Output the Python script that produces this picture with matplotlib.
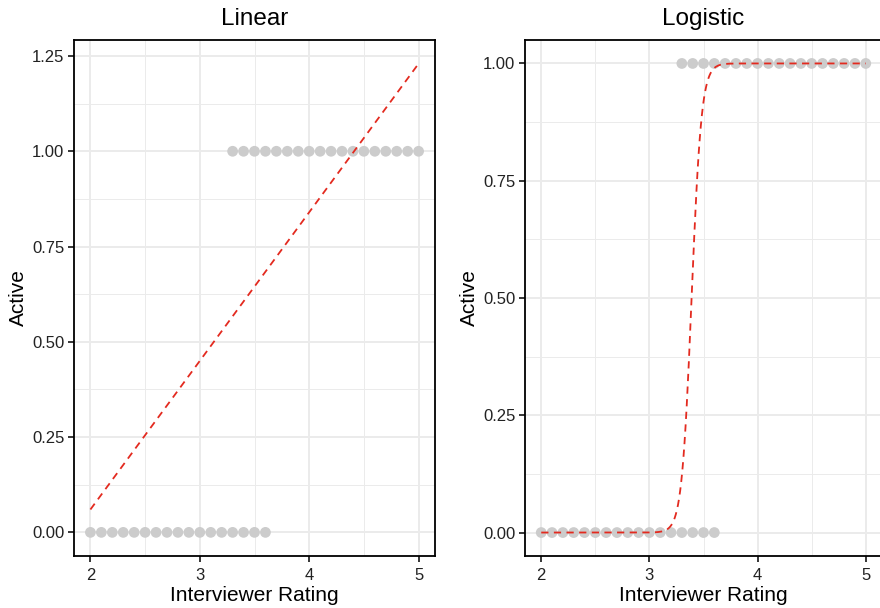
import numpy as np
import matplotlib
matplotlib.use("Agg")
import matplotlib.pyplot as plt

plt.rcParams['font.family'] = ['Liberation Sans', 'DejaVu Sans']

# observed ratings, split by outcome
rating_inactive = [2.0, 2.1, 2.2, 2.3, 2.4, 2.5, 2.6, 2.7, 2.8, 2.9, 3.0,
                   3.1, 3.2, 3.3, 3.4, 3.5, 3.6]
rating_active = [3.3, 3.4, 3.5, 3.6, 3.7, 3.8, 3.9, 4.0, 4.1, 4.2, 4.3,
                 4.4, 4.5, 4.6, 4.7, 4.8, 4.9, 5.0]

# fitted models
lin_intercept = -0.72
lin_slope = 0.39
logit_mid = 3.39
logit_k = 22.0

pt_col = '#CCCCCC'
line_col = '#E32A1F'
grid_col = '#EBEBEB'

fig = plt.figure(figsize=(8.8, 6.08), dpi=100)
ax1 = fig.add_axes([74/880, 52/608, 361/880, 516/608])
ax2 = fig.add_axes([525/880, 52/608, 357/880, 516/608])

xs = np.linspace(2, 5, 300)
x_all = rating_inactive + rating_active
y_all = [0] * len(rating_inactive) + [1] * len(rating_active)

def style(ax, title, yticks, ylim):
    ax.set_xlim(1.85, 5.15)
    ax.set_ylim(*ylim)
    ax.set_xticks([2, 3, 4, 5])
    ax.set_xticks([2.5, 3.5, 4.5], minor=True)
    ax.set_yticks(yticks)
    step = yticks[1] - yticks[0]
    ax.set_yticks([t + step / 2 for t in yticks[:-1]], minor=True)
    ax.set_yticklabels(['%.2f' % t for t in yticks])
    ax.grid(True, which='major', color=grid_col, lw=1.4, zorder=0)
    ax.grid(True, which='minor', color=grid_col, lw=0.7, zorder=0)
    ax.set_axisbelow(True)
    ax.tick_params(which='major', direction='out', length=4, width=1.1,
                   color='black', labelsize=12, labelcolor='#222222', pad=3)
    ax.tick_params(axis='x', pad=5)
    ax.tick_params(which='minor', length=0)
    for s in ax.spines.values():
        s.set_linewidth(1.3)
        s.set_color('black')
    ax.set_title(title, fontsize=17.5, pad=11)
    ax.set_xlabel('Interviewer Rating', fontsize=15, labelpad=2)
    ax.set_ylabel('Active', fontsize=15, labelpad=3)

ax1.scatter(x_all, y_all, s=60, color=pt_col, edgecolors='none', zorder=2)
ax1.plot(xs, lin_intercept + lin_slope * xs, color=line_col, lw=1.3,
         dashes=(4, 3), zorder=3)
style(ax1, 'Linear', [0, 0.25, 0.5, 0.75, 1.0, 1.25], (-0.062, 1.292))

ax2.scatter(x_all, y_all, s=60, color=pt_col, edgecolors='none', zorder=2)
ax2.plot(xs, 1 / (1 + np.exp(-logit_k * (xs - logit_mid))), color=line_col,
         lw=1.3, dashes=(4, 3), zorder=3)
style(ax2, 'Logistic', [0, 0.25, 0.5, 0.75, 1.0], (-0.05, 1.05))

fig.savefig('out.png', dpi=100)
